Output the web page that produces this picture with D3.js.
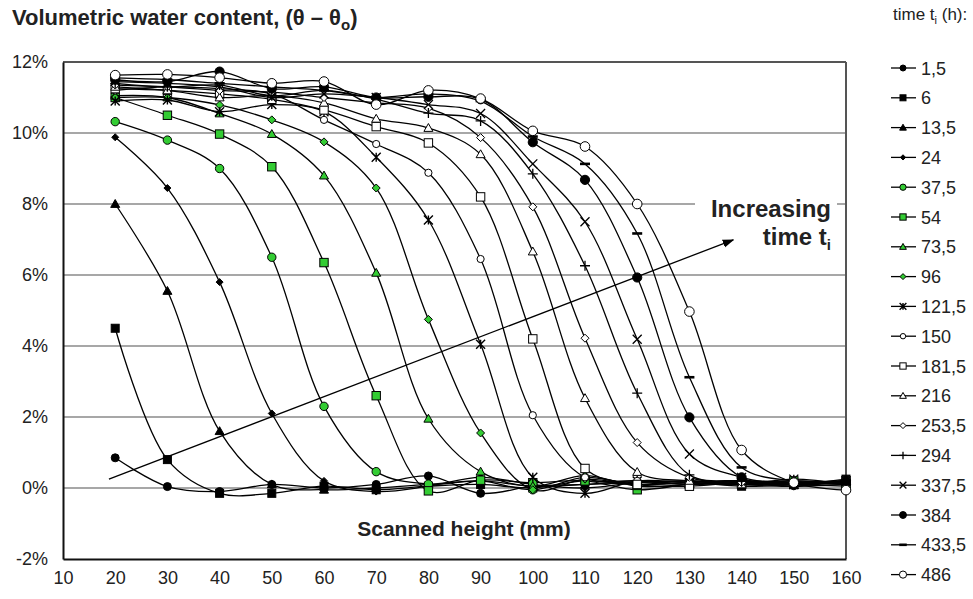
<!DOCTYPE html>
<html>
<head>
<meta charset="utf-8">
<script src="https://cdn.jsdelivr.net/npm/d3@7"></script>
<style>
body{margin:0;background:#fff;}
text{font-family:"Liberation Sans",Arial,Helvetica,sans-serif;fill:#222;}
</style>
</head>
<body>
<svg id="chart" width="973" height="599"></svg>
<script>
// scanned height (mm) of every profile point
var heights = [20, 30, 40, 50, 60, 70, 80, 90, 100, 110, 120, 130, 140, 150, 160];

// legend labels, time t_i (h)
var timeLabels = ["1,5", "6", "13,5", "24", "37,5", "54", "73,5", "96", "121,5",
  "150", "181,5", "216", "253,5", "294", "337,5", "384", "433,5", "486"];

// volumetric water content (%) per series
var t1_5   = [0.85, 0.04, -0.1, 0.1, 0.0, 0.1, 0.34, -0.15, 0.05, 0.1, 0.15, 0.2, 0.1, 0.15, 0.2];
var t6     = [4.5, 0.8, -0.15, -0.15, 0.05, -0.05, 0.05, 0.1, 0.0, 0.2, 0.1, 0.15, 0.05, 0.1, 0.25];
var t13_5  = [8.0, 5.55, 1.6, 0.1, -0.05, 0.0, 0.1, 0.2, 0.05, 0.1, 0.2, 0.1, 0.2, 0.15, 0.1];
var t24    = [9.88, 8.45, 5.8, 2.1, 0.2, -0.1, 0.05, 0.3, 0.1, 0.0, 0.15, 0.2, 0.1, 0.05, 0.2];
var t37_5  = [10.32, 9.8, 9.0, 6.5, 2.3, 0.46, 0.11, 0.2, -0.05, 0.3, 0.1, 0.15, 0.2, 0.1, 0.05];
var t54    = [11.0, 10.5, 9.97, 9.05, 6.35, 2.6, -0.08, 0.22, 0.15, 0.2, -0.05, 0.1, 0.15, 0.2, 0.1];
var t73_5  = [11.05, 11.0, 10.55, 9.97, 8.8, 6.06, 1.95, 0.46, 0.05, 0.35, 0.05, 0.1, 0.2, 0.15, 0.2];
var t96    = [11.0, 11.0, 10.79, 10.37, 9.75, 8.45, 4.75, 1.55, -0.05, 0.25, 0.1, 0.2, 0.1, 0.2, 0.15];
var t121_5 = [10.9, 10.93, 10.6, 10.8, 10.6, 9.32, 7.55, 4.05, 0.3, -0.15, 0.2, 0.15, 0.1, 0.25, 0.1];
var t150   = [11.2, 11.3, 11.25, 11.1, 10.37, 9.69, 8.88, 6.45, 2.05, 0.3, 0.2, 0.1, 0.15, 0.05, 0.1];
var t181_5 = [11.25, 11.2, 11.1, 10.95, 10.65, 10.18, 9.72, 8.2, 4.2, 0.55, 0.1, 0.05, 0.15, 0.1, 0.2];
var t216   = [11.3, 11.2, 11.0, 11.05, 10.85, 10.4, 10.14, 9.4, 6.66, 2.53, 0.45, 0.2, 0.1, 0.15, 0.2];
var t253_5 = [11.35, 11.3, 11.2, 11.15, 11.0, 10.85, 10.7, 9.87, 7.92, 4.22, 1.28, 0.3, 0.15, 0.1, 0.2];
var t294   = [11.4, 11.3, 11.35, 11.05, 11.2, 10.95, 10.56, 10.34, 8.85, 6.26, 2.67, 0.37, 0.2, 0.1, 0.15];
var t337_5 = [11.45, 11.4, 11.3, 11.0, 11.1, 11.0, 10.8, 10.55, 9.13, 7.5, 4.19, 0.96, 0.3, 0.1, 0.2];
var t384   = [11.5, 11.45, 11.73, 11.25, 11.3, 11.0, 11.02, 10.95, 9.74, 8.68, 5.93, 1.99, 0.3, 0.1, 0.2];
var t433_5 = [11.55, 11.5, 11.4, 11.3, 11.2, 11.0, 11.1, 10.9, 9.9, 9.13, 7.17, 3.12, 0.58, 0.2, 0.1];
var t486   = [11.63, 11.65, 11.56, 11.4, 11.45, 10.8, 11.2, 10.97, 10.06, 9.62, 8.0, 4.97, 1.07, 0.15, -0.06];

var seriesValues = [t1_5, t6, t13_5, t24, t37_5, t54, t73_5, t96, t121_5,
  t150, t181_5, t216, t253_5, t294, t337_5, t384, t433_5, t486];

var xTickValues = [10, 20, 30, 40, 50, 60, 70, 80, 90, 100, 110, 120, 130, 140, 150, 160];
var yTickValues = [-2, 0, 2, 4, 6, 8, 10, 12];

// annotation arrow, data coordinates (mm, %)
var arrowFrom = [18.8, 0.25];
var arrowTo = [138.4, 6.99];

var GREEN = "#33cc33";
var markers = [
  {shape: "circle", fill: "#000", r: 4},
  {shape: "square", fill: "#000", r: 4},
  {shape: "triangle", fill: "#000", r: 4.5},
  {shape: "diamond", fill: "#000", r: 3.5},
  {shape: "circle", fill: GREEN, r: 4.2},
  {shape: "square", fill: GREEN, r: 4.2},
  {shape: "triangle", fill: GREEN, r: 4.5},
  {shape: "diamond", fill: GREEN, r: 4},
  {shape: "asterisk", fill: "none", r: 4.5},
  {shape: "circle", fill: "#fff", r: 3.6},
  {shape: "square", fill: "#fff", r: 4.2},
  {shape: "triangle", fill: "#fff", r: 4.5},
  {shape: "diamond", fill: "#fff", r: 4},
  {shape: "plus", fill: "none", r: 5},
  {shape: "cross", fill: "none", r: 4.5},
  {shape: "circle", fill: "#000", r: 4.6},
  {shape: "dash", fill: "none", r: 5},
  {shape: "circle", fill: "#fff", r: 4.8}
];

var svg = d3.select("#chart");
var margin = {left: 63, right: 846, top: 62, bottom: 559};

var x = d3.scaleLinear().domain([10, 160]).range([margin.left, margin.right]);
var y = d3.scaleLinear().domain([-2, 12]).range([margin.bottom, margin.top]);

/***********************************************************************************************************/

function addMarker(g, m, k){
  var r = m.r*(k || 1);
  if (m.shape === "circle"){
    g.append("circle").attr("r", r).attr("fill", m.fill).attr("stroke", "#000").attr("stroke-width", 1);
  } else if (m.shape === "square"){
    g.append("rect").attr("x", -r).attr("y", -r).attr("width", 2*r).attr("height", 2*r)
      .attr("fill", m.fill).attr("stroke", "#000").attr("stroke-width", 1);
  } else if (m.shape === "triangle"){
    g.append("path").attr("d", "M0," + (-r) + "L" + r + "," + (r*0.75) + "H" + (-r) + "Z")
      .attr("fill", m.fill).attr("stroke", "#000").attr("stroke-width", 1);
  } else if (m.shape === "diamond"){
    g.append("path").attr("d", "M0," + (-r) + "L" + r + ",0L0," + r + "L" + (-r) + ",0Z")
      .attr("fill", m.fill).attr("stroke", "#000").attr("stroke-width", 1);
  } else if (m.shape === "asterisk"){
    g.append("path").attr("d", "M" + (-r) + "," + (-r) + "L" + r + "," + r + "M" + (-r) + "," + r + "L" + r + "," + (-r) + "M0," + (-r) + "V" + r)
      .attr("stroke", "#000").attr("stroke-width", 1.4).attr("fill", "none");
  } else if (m.shape === "plus"){
    g.append("path").attr("d", "M" + (-r) + ",0H" + r + "M0," + (-r) + "V" + r)
      .attr("stroke", "#000").attr("stroke-width", 1.3).attr("fill", "none");
  } else if (m.shape === "cross"){
    g.append("path").attr("d", "M" + (-r) + "," + (-r) + "L" + r + "," + r + "M" + (-r) + "," + r + "L" + r + "," + (-r))
      .attr("stroke", "#000").attr("stroke-width", 1.3).attr("fill", "none");
  } else if (m.shape === "dash"){
    g.append("path").attr("d", "M" + (-r) + ",0H" + r)
      .attr("stroke", "#000").attr("stroke-width", 2.6).attr("fill", "none");
  }
}

/***********************************************************************************************************/
// grid and frame

svg.append("g").selectAll("line").data(yTickValues.filter(function(d){return d > -2;}))
  .enter().append("line")
  .attr("x1", margin.left).attr("x2", margin.right)
  .attr("y1", function(d){return y(d);}).attr("y2", function(d){return y(d);})
  .attr("stroke", function(d){return d === 12 ? "#555" : "#8a8a8a";})
  .attr("stroke-width", function(d){return d === 12 ? 2 : 1.5;});

svg.append("line").attr("x1", margin.right).attr("x2", margin.right)
  .attr("y1", margin.top).attr("y2", margin.bottom)
  .attr("stroke", "#555").attr("stroke-width", 2);

var axisY = svg.append("g").attr("transform", "translate(" + margin.left + ",0)")
  .call(d3.axisLeft(y).tickValues(yTickValues).tickSize(0).tickPadding(15)
    .tickFormat(function(d){return d + "%";}));
axisY.select(".domain").attr("stroke", "#111").attr("stroke-width", 2);
axisY.selectAll("text").attr("font-size", 18).attr("fill", "#222")
  .style("font-family", "'Liberation Sans',Arial,sans-serif");

var axisX = svg.append("g").attr("transform", "translate(0," + margin.bottom + ")")
  .call(d3.axisBottom(x).tickValues(xTickValues).tickSize(0).tickPadding(12));
axisX.select(".domain").attr("stroke", "#111").attr("stroke-width", 2);
axisX.selectAll("text").attr("font-size", 18).attr("fill", "#222")
  .style("font-family", "'Liberation Sans',Arial,sans-serif");

/***********************************************************************************************************/
// curves

var line = d3.line()
  .x(function(d){return x(d[0]);})
  .y(function(d){return y(d[1]);})
  .curve(d3.curveCatmullRom.alpha(0.5));

seriesValues.forEach(function(vals, i){
  var pts = vals.map(function(v, k){return [heights[k], v];});
  var g = svg.append("g").attr("class", "series");
  g.append("path").datum(pts).attr("d", line)
    .attr("fill", "none").attr("stroke", "#000").attr("stroke-width", 1.3);
  g.selectAll(".mk").data(pts).enter().append("g").attr("class", "mk")
    .attr("transform", function(d){return "translate(" + x(d[0]) + "," + y(d[1]) + ")";})
    .each(function(){addMarker(d3.select(this), markers[i]);});
});

/***********************************************************************************************************/
// annotation

svg.append("rect").attr("x", 695).attr("y", 192).attr("width", 142).attr("height", 64).attr("fill", "#fff");

var ann = svg.append("text").attr("text-anchor", "end").attr("font-weight", "bold").attr("font-size", 24);
ann.append("tspan").attr("x", 831).attr("y", 217).text("Increasing");
var ann2 = svg.append("text").attr("text-anchor", "end").attr("font-weight", "bold").attr("font-size", 24)
  .attr("x", 831).attr("y", 245);
ann2.append("tspan").text("time t");
ann2.append("tspan").attr("font-size", 15).attr("dy", 5).text("i");

svg.append("defs").append("marker").attr("id", "arrowhead")
  .attr("viewBox", "0 0 10 10").attr("refX", 9).attr("refY", 5)
  .attr("markerWidth", 9).attr("markerHeight", 9).attr("orient", "auto")
  .append("path").attr("d", "M0,1.5L10,5L0,8.5Z").attr("fill", "#000");

svg.append("line")
  .attr("x1", x(arrowFrom[0])).attr("y1", y(arrowFrom[1]))
  .attr("x2", x(arrowTo[0])).attr("y2", y(arrowTo[1]))
  .attr("stroke", "#000").attr("stroke-width", 1.3).attr("marker-end", "url(#arrowhead)");

svg.append("text").attr("x", 464).attr("y", 536).attr("text-anchor", "middle")
  .attr("font-weight", "bold").attr("font-size", 21).text("Scanned height (mm)");

var title = svg.append("text").attr("x", 12).attr("y", 25).attr("font-weight", "bold").attr("font-size", 22);
title.append("tspan").text("Volumetric water content, (\u03b8 \u2013 \u03b8");
title.append("tspan").attr("font-size", 15).attr("dy", 5).text("o");
title.append("tspan").attr("dy", -5).text(")");

/***********************************************************************************************************/
// legend

var legHead = svg.append("text").attr("x", 893).attr("y", 20).attr("font-size", 17);
legHead.append("tspan").text("time t");
legHead.append("tspan").attr("font-size", 11).attr("dy", 4).text("i");
legHead.append("tspan").attr("dy", -4).text(" (h):");

var leg = svg.append("g").selectAll("g").data(timeLabels).enter().append("g")
  .attr("transform", function(d, i){return "translate(0," + (68 + i*29.8) + ")";});
leg.append("line").attr("x1", 891).attr("x2", 916).attr("y1", 0).attr("y2", 0)
  .attr("stroke", "#000").attr("stroke-width", 1.3);
leg.append("g").attr("transform", "translate(903,0)")
  .each(function(d, i){addMarker(d3.select(this), markers[i], 0.75);});
leg.append("text").attr("x", 921).attr("y", 6.5).attr("font-size", 18).text(function(d){return d;});
</script>
</body>
</html>
